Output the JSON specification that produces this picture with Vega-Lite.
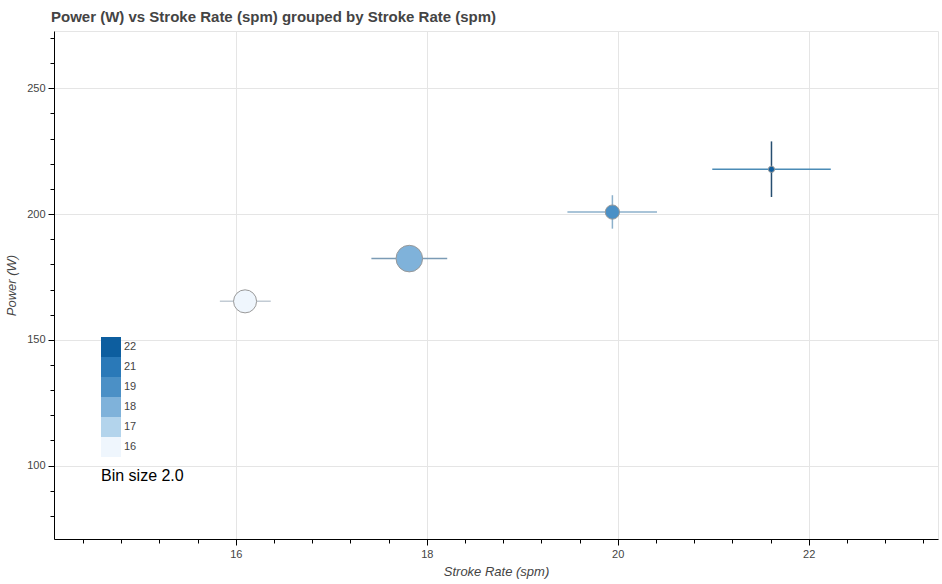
{
  "$schema": "https://vega.github.io/schema/vega-lite/v6.json",
  "width": 942,
  "height": 584,
  "autosize": {"type": "fit", "contains": "padding"},
  "padding": {"left": 5, "top": 10, "right": 4, "bottom": 6},
  "background": "white",
  "title": {
    "text": "Power (W) vs Stroke Rate (spm) grouped by Stroke Rate (spm)",
    "anchor": "start",
    "frame": "group",
    "font": "Liberation Sans",
    "fontSize": 15,
    "fontWeight": "bold",
    "color": "#444444",
    "offset": 6,
    "dx": -3
  },
  "config": {
    "view": {"stroke": "#e5e5e5"},
    "axis": {
      "labelFont": "Liberation Sans",
      "labelFontSize": 11,
      "labelColor": "#444444",
      "titleFont": "Liberation Sans",
      "titleFontSize": 13,
      "titleFontStyle": "italic",
      "titleFontWeight": "normal",
      "titleColor": "#444444",
      "domainColor": "#000000",
      "tickColor": "#000000",
      "gridColor": "#e5e5e5",
      "labelOverlap": false,
      "labelFlush": false
    }
  },
  "data": {
    "values": [
      {"rate": 16.097, "rate_lo": 15.833, "rate_hi": 16.366, "power": 165.3, "power_lo": 162.5, "power_hi": 168.0, "bin": "16", "n": 26},
      {"rate": 17.817, "rate_lo": 17.42, "rate_hi": 18.214, "power": 182.3, "power_lo": 179.0, "power_hi": 185.5, "bin": "18", "n": 30},
      {"rate": 19.944, "rate_lo": 19.473, "rate_hi": 20.411, "power": 200.8, "power_lo": 194.2, "power_hi": 207.5, "bin": "19", "n": 16},
      {"rate": 21.61, "rate_lo": 20.99, "rate_hi": 22.231, "power": 217.8, "power_lo": 206.8, "power_hi": 228.9, "bin": "22", "n": 7}
    ]
  },
  "encoding": {
    "x": {
      "field": "rate",
      "type": "quantitative",
      "scale": {"domain": [14.096, 23.354], "nice": false, "zero": false},
      "axis": {
        "title": "Stroke Rate (spm)",
        "values": [14.4, 14.8, 15.2, 15.6, 16, 16.4, 16.8, 17.2, 17.6, 18, 18.4, 18.8, 19.2, 19.6, 20, 20.4, 20.8, 21.2, 21.6, 22, 22.4, 22.8, 23.2],
        "labelExpr": "abs(datum.value - round(datum.value/2)*2) < 0.01 ? format(datum.value, '.0f') : ''",
        "tickSize": {"condition": {"test": "abs(datum.value - round(datum.value/2)*2) < 0.01", "value": 6}, "value": 4},
        "gridOpacity": {"condition": {"test": "abs(datum.value - round(datum.value/2)*2) < 0.01", "value": 1}, "value": 0},
        "labelPadding": 3,
        "titlePadding": 6
      }
    },
    "y": {
      "field": "power",
      "type": "quantitative",
      "scale": {"domain": [70.8, 272.8], "nice": false, "zero": false},
      "axis": {
        "title": "Power (W)",
        "values": [80, 90, 100, 110, 120, 130, 140, 150, 160, 170, 180, 190, 200, 210, 220, 230, 240, 250, 260, 270],
        "labelExpr": "datum.value % 50 === 0 ? format(datum.value, '.0f') : ''",
        "tickSize": {"condition": {"test": "datum.value % 50 === 0", "value": 6}, "value": 4},
        "gridOpacity": {"condition": {"test": "datum.value % 50 === 0", "value": 1}, "value": 0},
        "labelPadding": 3,
        "titlePadding": 8
      }
    }
  },
  "layer": [
    {
      "mark": {"type": "rule", "strokeWidth": 1.5},
      "encoding": {
        "x": {"field": "rate_lo", "type": "quantitative"},
        "x2": {"field": "rate_hi"},
        "color": {
          "field": "bin",
          "type": "nominal",
          "scale": {"domain": ["16", "18", "19", "22"], "range": ["#c2cbd4", "#7b9bb5", "#8db1cb", "#4b8bb6"]},
          "legend": null
        }
      }
    },
    {
      "mark": {"type": "rule", "strokeWidth": 1.5},
      "encoding": {
        "y": {"field": "power_lo", "type": "quantitative"},
        "y2": {"field": "power_hi"},
        "color": {
          "field": "bin",
          "type": "nominal",
          "scale": {"domain": ["16", "18", "19", "22"], "range": ["#c2cbd4", "#7b9bb5", "#8db1cb", "#264e70"]},
          "legend": null
        }
      }
    },
    {
      "mark": {"type": "point", "shape": "circle", "filled": true, "stroke": "#999999", "strokeWidth": 1, "opacity": 1},
      "encoding": {
        "fill": {
          "field": "bin",
          "type": "nominal",
          "scale": {"domain": ["22", "21", "19", "18", "17", "16"], "range": ["#0d5e9f", "#2a79b8", "#4b90c6", "#7fb2da", "#b3d4ec", "#eff6fd"]},
          "legend": {
            "orient": "none",
            "legendX": 47,
            "legendY": 306,
            "symbolType": "square",
            "symbolSize": 400,
            "symbolStrokeWidth": 0,
            "symbolOpacity": 1,
            "rowPadding": 0,
            "padding": 0,
            "labelOffset": 3,
            "labelFont": "Liberation Sans",
            "labelFontSize": 11,
            "labelColor": "#444444",
            "title": "Bin size 2.0",
            "titleOrient": "bottom",
            "titleAnchor": "start",
            "titleFont": "Liberation Sans",
            "titleFontSize": 16,
            "titleFontWeight": "normal",
            "titleColor": "#000000",
            "titlePadding": 11
          }
        },
        "size": {
          "field": "n",
          "type": "quantitative",
          "scale": {"type": "pow", "exponent": 2, "domain": [0, 30], "range": [0, 707]},
          "legend": null
        }
      }
    }
  ],
  "resolve": {"scale": {"color": "independent"}}
}
